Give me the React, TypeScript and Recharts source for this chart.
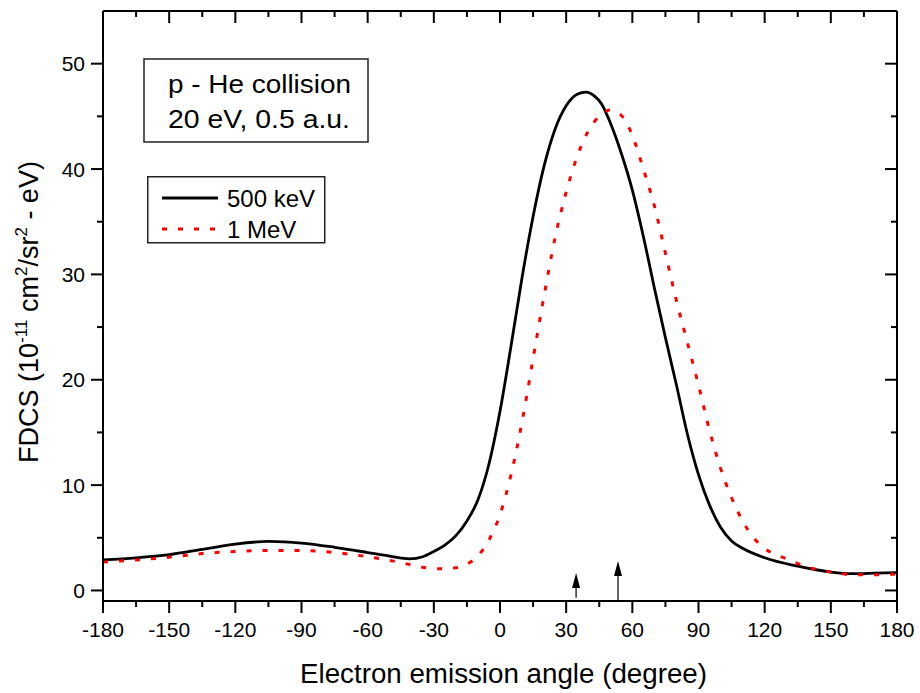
import React from 'react';
import {
  LineChart,
  Line,
  XAxis,
  YAxis,
  Legend,
  ReferenceLine,
  Label,
} from 'recharts';

// 500 keV curve (solid black)
const angle500 = [-180, -165, -150, -135, -120, -105, -90, -75, -60, -50, -41, -35, -30, -25, -20, -15, -10, -5, 0, 5, 10, 15, 20, 25, 30, 35, 39, 43, 46, 50, 55, 60, 65, 70, 75, 80, 85, 90, 95, 100, 105, 110, 120, 135, 150, 160, 170, 180];
const fdcs500 = [2.9, 3.1, 3.4, 3.9, 4.4, 4.65, 4.5, 4.1, 3.6, 3.25, 3.0, 3.2, 3.7, 4.3, 5.2, 6.6, 8.6, 12.0, 17.0, 23.2, 29.7, 35.5, 40.3, 43.8, 46.0, 47.1, 47.3, 46.9, 46.2, 44.4, 41.5, 38.0, 33.6, 28.7, 24.0, 19.5, 14.8, 11.0, 8.1, 6.0, 4.7, 4.0, 3.1, 2.3, 1.75, 1.6, 1.65, 1.7];

// 1 MeV curve (dashed red)
const angle1M = [-180, -165, -150, -135, -120, -105, -90, -75, -60, -45, -35, -28, -20, -15, -10, -5, 0, 5, 10, 15, 20, 25, 30, 35, 40, 45, 50, 55, 60, 65, 70, 75, 80, 85, 90, 95, 100, 105, 110, 115, 120, 130, 140, 150, 160, 170, 180];
const fdcs1M = [2.7, 2.9, 3.15, 3.5, 3.7, 3.8, 3.8, 3.6, 3.2, 2.65, 2.2, 2.05, 2.15, 2.5, 3.3, 4.8, 7.2, 11.0, 16.0, 22.0, 28.0, 33.5, 37.8, 41.2, 43.6, 45.0, 45.6, 45.1, 43.2, 40.0, 36.5, 32.0, 27.5, 23.5, 19.5, 15.2, 11.6, 8.8, 6.6, 5.0, 4.0, 3.0, 2.2, 1.75, 1.5, 1.5, 1.55];

const xTicks = [-180, -165, -150, -135, -120, -105, -90, -75, -60, -45, -30, -15, 0, 15, 30, 45, 60, 75, 90, 105, 120, 135, 150, 165, 180];
const yTicks = [0, 5, 10, 15, 20, 25, 30, 35, 40, 45, 50];
const legendOrder = ['500 keV', '1 MeV'];

// arrows marking the binary-encounter angles
const arrowAngles = [34.5, 53.5];
const arrowBases = [-0.7, -1];
const arrowTips = [1.65, 2.8];

const series500 = angle500.map((a, i) => ({ angle: a, fdcs: fdcs500[i] }));
const series1M = angle1M.map((a, i) => ({ angle: a, fdcs: fdcs1M[i] }));

const FONT = '"Liberation Sans", Arial, sans-serif';
const PLOT_W = 794;
const PLOT_H = 590;

// bottom ticks, also mirrored as inward ticks on the top frame
const BottomTick = (props: any) => {
  const { x, y, payload } = props;
  const major = payload.value % 30 === 0;
  const len = major ? 12 : 6;
  const top = y - PLOT_H;
  return (
    <g>
      <line x1={x} y1={y} x2={x} y2={y + len} stroke="#000" strokeWidth={2} />
      <line x1={x} y1={top} x2={x} y2={top + len} stroke="#000" strokeWidth={2} />
      {major && (
        <text x={x} y={y + 36} textAnchor="middle" fontSize={21} fontFamily={FONT} fill="#000">
          {payload.value}
        </text>
      )}
    </g>
  );
};

// left ticks, mirrored on the right frame
const LeftTick = (props: any) => {
  const { x, y, payload } = props;
  const major = payload.value % 10 === 0;
  const len = major ? 12 : 6;
  const right = x + PLOT_W;
  return (
    <g>
      <line x1={x} y1={y} x2={x - len} y2={y} stroke="#000" strokeWidth={2} />
      <line x1={right} y1={y} x2={right - len} y2={y} stroke="#000" strokeWidth={2} />
      {major && (
        <text x={x - 18} y={y + 7.5} textAnchor="end" fontSize={21} fontFamily={FONT} fill="#000">
          {payload.value}
        </text>
      )}
    </g>
  );
};

const Arrow = (props: any) => {
  const { x1, y1, x2, y2 } = props;
  const head = 15;
  return (
    <g>
      <line x1={x1} y1={y1} x2={x2} y2={y2 + head} stroke="#000" strokeWidth={1.2} />
      <polygon points={`${x2},${y2} ${x2 - 4},${y2 + head} ${x2 + 4},${y2 + head}`} fill="#000" />
    </g>
  );
};

const YTitle = () => (
  <text
    transform="translate(38, 312) rotate(-90)"
    textAnchor="middle"
    fontSize={27}
    fontFamily={FONT}
    fill="#000"
  >
    FDCS (10
    <tspan dy={-11} fontSize={17}>-11</tspan>
    <tspan dy={11}> cm</tspan>
    <tspan dy={-11} fontSize={17}>2</tspan>
    <tspan dy={11}>/sr</tspan>
    <tspan dy={-11} fontSize={17}>2</tspan>
    <tspan dy={11}> - eV)</tspan>
  </text>
);

const XTitle = () => (
  <text
    x={300}
    y={683}
    fontSize={27}
    fontFamily={FONT}
    fill="#000"
    textLength={407}
    lengthAdjust="spacingAndGlyphs"
  >
    Electron emission angle (degree)
  </text>
);

const LegendBox = (props: any) => {
  const items = [...(props.payload || [])].sort(
    (a: any, b: any) => legendOrder.indexOf(a.value) - legendOrder.indexOf(b.value),
  );
  return (
    <svg width={180} height={69} style={{ display: 'block' }}>
      <rect x={0.75} y={0.75} width={177} height={66} fill="#fff" stroke="#222" strokeWidth={1.5} />
      {items.map((item: any, i: number) => {
        const cy = 22 + i * 31;
        return (
          <g key={item.value}>
            <line
              x1={15}
              y1={cy}
              x2={71}
              y2={cy}
              stroke={item.color}
              strokeWidth={3}
              strokeDasharray={item.payload.strokeDasharray}
            />
            <text x={80} y={cy + 9} fontSize={24} fontFamily={FONT} fill="#000">
              {item.value}
            </text>
          </g>
        );
      })}
    </svg>
  );
};

export default function App() {
  return (
    <div style={{ position: 'fixed', left: 0, top: 0, width: 920, height: 693, background: '#fff' }}>
      <LineChart width={920} height={693} margin={{ top: 11, right: 23, bottom: 32, left: 33 }}>
        <XAxis
          dataKey="angle"
          type="number"
          domain={[-180, 180]}
          ticks={xTicks}
          interval={0}
          height={60}
          tickSize={0}
          tickMargin={0}
          tickLine={false}
          axisLine={{ stroke: '#000', strokeWidth: 2 }}
          tick={<BottomTick />}
          allowDataOverflow
          label={<Label content={<XTitle />} />}
        />
        <YAxis
          type="number"
          domain={[-1, 55]}
          ticks={yTicks}
          interval={0}
          width={70}
          tickSize={0}
          tickMargin={0}
          tickLine={false}
          axisLine={{ stroke: '#000', strokeWidth: 2 }}
          tick={<LeftTick />}
          allowDataOverflow
          label={<Label content={<YTitle />} />}
        />
        {/* top and right edges of the frame */}
        <ReferenceLine y={55} stroke="#000" strokeWidth={2} ifOverflow="visible" />
        <ReferenceLine x={180} stroke="#000" strokeWidth={2} ifOverflow="visible" />
        <Legend
          layout="vertical"
          align="center"
          verticalAlign="middle"
          content={<LegendBox />}
          wrapperStyle={{ position: 'absolute', left: 147, top: 176, width: 180, height: 69 }}
        />
        <Line
          data={series500}
          dataKey="fdcs"
          name="500 keV"
          type="monotone"
          stroke="#000"
          strokeWidth={2.8}
          dot={false}
          activeDot={false}
          isAnimationActive={false}
        />
        <Line
          data={series1M}
          dataKey="fdcs"
          name="1 MeV"
          type="monotone"
          stroke="#ff0000"
          strokeWidth={3}
          strokeDasharray="5 11"
          dot={false}
          activeDot={false}
          isAnimationActive={false}
        />
        {arrowAngles.map((a, i) => (
          <ReferenceLine
            key={`arrow-${i}`}
            segment={[
              { x: a, y: arrowBases[i] },
              { x: a, y: arrowTips[i] },
            ]}
            shape={<Arrow />}
          />
        ))}
      </LineChart>
      <svg
        width={230}
        height={90}
        style={{ position: 'absolute', left: 143, top: 58, pointerEvents: 'none' }}
      >
        <rect x={1} y={1} width={224} height={83} fill="#fff" stroke="#222" strokeWidth={1.5} />
        <text x={25} y={35} fontSize={26} fontFamily={FONT} fill="#000" textLength={183} lengthAdjust="spacingAndGlyphs">
          p - He collision
        </text>
        <text x={25} y={70} fontSize={26} fontFamily={FONT} fill="#000" textLength={182} lengthAdjust="spacingAndGlyphs">
          20 eV, 0.5 a.u.
        </text>
      </svg>
    </div>
  );
}
